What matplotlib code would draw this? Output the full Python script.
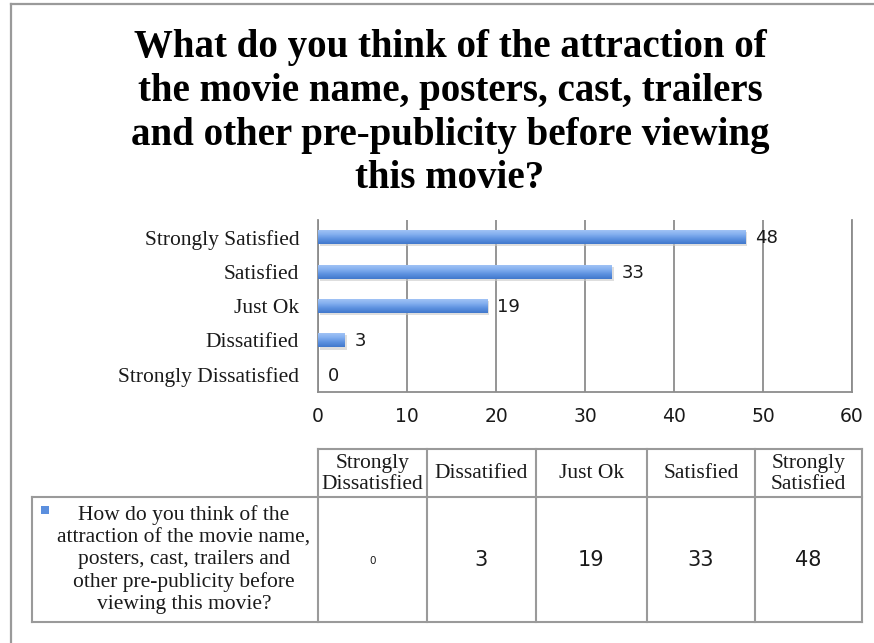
import numpy as np
import matplotlib
matplotlib.use("Agg")
import matplotlib.pyplot as plt
from matplotlib.lines import Line2D
from matplotlib.patches import Rectangle

# ---- data ----
categories = ["Strongly Dissatisfied", "Dissatified", "Just Ok", "Satisfied", "Strongly Satisfied"]
header_labels = ["Strongly\nDissatisfied", "Dissatified", "Just Ok", "Satisfied", "Strongly\nSatisfied"]
values = [0, 3, 19, 33, 48]
x_ticks = [0, 10, 20, 30, 40, 50, 60]
title = ("What do you think of the attraction of\n"
         "the movie name, posters, cast, trailers\n"
         "and other pre-publicity before viewing\n"
         "this movie?")
series_name = ("How do you think of the\n"
               "attraction of the movie name,\n"
               "posters, cast, trailers and\n"
               "other pre-publicity before\n"
               "viewing this movie?")

SERIF = ["Liberation Serif", "DejaVu Serif"]
SANS = ["DejaVu Sans"]
GRID = "#8c8c8c"
TXT = "#1a1a1a"

W, H = 874, 643
fig = plt.figure(figsize=(W / 100, H / 100), dpi=100)
fig.patch.set_facecolor("white")

# ---- bar chart ----
ax = fig.add_axes([318 / W, 1 - 392 / H, (852 - 318) / W, (392 - 220) / H])
y = np.arange(len(categories))
bars = ax.barh(y, values, height=0.41, color="none", edgecolor="none", zorder=3)

grad = np.linspace(0, 1, 64).reshape(-1, 1)
cmap = matplotlib.colors.LinearSegmentedColormap.from_list(
    "barblue", ["#4178cc", "#5d91e0", "#86b1f0", "#a6c7f6"])
for rect, v in zip(bars, values):
    x0, y0 = rect.get_x(), rect.get_y()
    w, h = rect.get_width(), rect.get_height()
    # soft drop shadow
    ax.add_patch(Rectangle((x0 + 0.25, y0 - 0.06), w, h, facecolor="#c8c8c8",
                           edgecolor="none", alpha=0.6, zorder=2))
    im = ax.imshow(grad, extent=[x0, x0 + w, y0, y0 + h], origin="lower",
                   cmap=cmap, aspect="auto", zorder=3.5, interpolation="bilinear")
    im.set_clip_path(rect)
    ax.text(v + 1.1, rect.get_y() + h / 2 - 0.03, str(v), va="center", ha="left",
            fontsize=13, family=SANS, color=TXT, zorder=5)

ax.set_xlim(x_ticks[0], x_ticks[-1])
ax.set_ylim(-0.5, len(categories) - 0.5)
ax.set_xticks(x_ticks)
ax.set_xticklabels([str(t) for t in x_ticks], fontsize=13.5, family=SANS, color=TXT)
ax.set_yticks(y)
ax.set_yticklabels(categories, fontsize=15.5, family=SERIF, color=TXT)
ax.tick_params(axis="x", length=0, pad=10.5)
ax.tick_params(axis="y", length=0, pad=13.5)
ax.grid(axis="x", color=GRID, linewidth=1.3, zorder=1)
ax.set_axisbelow(True)
ax.spines["top"].set_visible(False)
for side in ["left", "bottom", "right"]:
    ax.spines[side].set_color(GRID)
    ax.spines[side].set_linewidth(1.3)

# ---- overlay in pixel coordinates: frame, title, data table ----
ov = fig.add_axes([0, 0, 1, 1], zorder=-1)
ov.set_xlim(0, W)
ov.set_ylim(H, 0)
ov.axis("off")

# outer chart frame
ov.add_line(Line2D([11, 11], [H, 4], color="#9a9a9a", linewidth=1.6))
ov.add_line(Line2D([11, W], [4, 4], color="#9a9a9a", linewidth=1.6))

ov.text(450, 113, title, ha="center", va="center", fontsize=28, fontweight="bold",
        family=SERIF, color="black", linespacing=1.25)

# data table
col_edges = [318, 427, 536, 647, 755, 862]
top, mid, bot = 449, 497, 622
left = 32
tc = "#9a9a9a"
lw = 1.5
ov.add_line(Line2D([col_edges[0], col_edges[-1]], [top, top], color=tc, lw=lw))
ov.add_line(Line2D([left, col_edges[-1]], [mid, mid], color=tc, lw=lw))
ov.add_line(Line2D([left, col_edges[-1]], [bot, bot], color=tc, lw=lw))
ov.add_line(Line2D([left, left], [mid, bot], color=tc, lw=lw))
for xe in col_edges:
    ov.add_line(Line2D([xe, xe], [top, bot], color=tc, lw=lw))

for i, (lab, v) in enumerate(zip(header_labels, values)):
    cx = (col_edges[i] + col_edges[i + 1]) / 2
    ov.text(cx, (top + mid) / 2 + 1, lab, ha="center", va="center", fontsize=15.5,
            family=SERIF, color=TXT, linespacing=1.12)
    ov.text(cx, (mid + bot) / 2 + 1, str(v), ha="center", va="center",
            fontsize=7.5 if v == 0 else 15, family=SANS, color=TXT)

# series key and name
ov.add_patch(Rectangle((41, 506), 8, 8, facecolor="#5b8fde", edgecolor="none"))
ov.text(184, (mid + bot) / 2, series_name, ha="center", va="center", fontsize=15.5,
        family=SERIF, color=TXT, linespacing=1.2)

fig.savefig("out.png", dpi=100, facecolor="white")
